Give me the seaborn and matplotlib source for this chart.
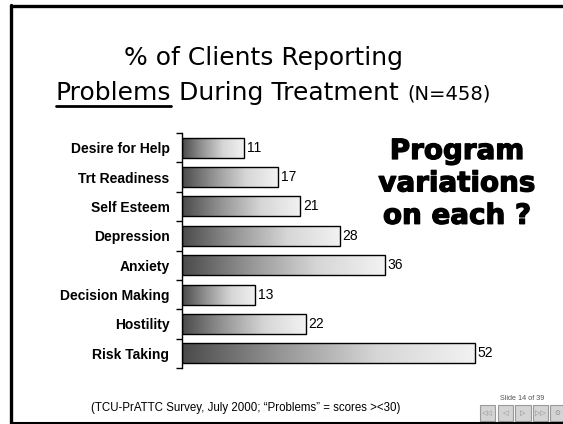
import numpy as np
import matplotlib
matplotlib.use("Agg")
import matplotlib.pyplot as plt
import seaborn as sns
import pandas as pd
from matplotlib.colors import LinearSegmentedColormap
from matplotlib.patches import Rectangle
from matplotlib.lines import Line2D
import matplotlib.patheffects as pe

# data
kategoriler = ["Desire for Help", "Trt Readiness", "Self Esteem", "Depression",
               "Anxiety", "Decision Making", "Hostility", "Risk Taking"]
yuzdeler = [11, 17, 21, 28, 36, 13, 22, 52]

veri = pd.DataFrame({"kategori": kategoriler, "yuzde": yuzdeler})

sns.set_style("white")
plt.rcParams["font.family"] = ["Liberation Sans", "DejaVu Sans"]
plt.rcParams["text.color"] = "black"
plt.rcParams["ytick.color"] = "black"
plt.rcParams["axes.edgecolor"] = "black"

W, H = 563, 424
fig = plt.figure(figsize=(W / 100, H / 100), dpi=100)

def fx(px):
    return px / W

def fy(py):
    return 1 - py / H

# slide frame
fig.add_artist(Line2D([fx(11), fx(11)], [fy(423), fy(5)], color="black", lw=2.4))
fig.add_artist(Line2D([fx(11), 1.0], [fy(5.5), fy(5.5)], color="black", lw=2.4))
fig.add_artist(Line2D([fx(11), 1.0], [fy(423), fy(423)], color="black", lw=1.5))

ax = fig.add_axes([fx(182), fy(368), fx(520 - 182), (368 - 133) / H])

sns.barplot(data=veri, x="yuzde", y="kategori", orient="h", ax=ax,
            color="white", width=0.68, edgecolor="black", linewidth=1.0)

# gradient fill inside each bar
gri = LinearSegmentedColormap.from_list("gri", ["#4a4a4a", "#959595", "#d6d6d6", "#f2f2f2"])
grad = np.linspace(0, 1, 256).reshape(1, -1)
for bar in ax.patches:
    x0, y0 = bar.get_x(), bar.get_y()
    w, h = bar.get_width(), bar.get_height()
    im = ax.imshow(grad, cmap=gri, aspect="auto", extent=[x0, x0 + w, y0 + h, y0],
                   zorder=bar.get_zorder() - 0.1, interpolation="bilinear")
    im.set_clip_path(bar)
    bar.set_facecolor("none")

ax.bar_label(ax.containers[0], padding=2, fontsize=10, color="black",
             family=["Liberation Sans Narrow", "Liberation Sans"])

ax.set_xlim(0, 60)
ax.set_ylim(len(kategoriler) - 0.5, -0.5)
ax.set_xlabel("")
ax.set_ylabel("")
ax.set_xticks([])
for s in ["top", "right", "bottom"]:
    ax.spines[s].set_visible(False)
ax.spines["left"].set_linewidth(1.0)

ax.set_yticks(np.arange(-0.5, len(kategoriler), 1.0))
ax.set_yticklabels([])
ax.set_yticks(np.arange(len(kategoriler)), minor=True)
ax.set_yticklabels(kategoriler, minor=True, fontsize=10, fontweight="bold", color="black")
ax.tick_params(axis="y", which="major", length=4, width=1.0, direction="out", left=True)
ax.tick_params(axis="y", which="minor", length=0, pad=9)

# title
fig.text(fx(264), fy(58), "% of Clients Reporting", ha="center", va="center",
         fontsize=18, family="DejaVu Sans", color="black")
t1 = fig.text(fx(38), fy(100), "Problems", ha="left", va="baseline",
              fontsize=18, family="DejaVu Sans", color="black")
t2 = fig.text(0, 0, " During Treatment ", ha="left", va="baseline",
              fontsize=18, family="DejaVu Sans", color="black")
t3 = fig.text(0, 0, "(N=458)", ha="left", va="baseline",
              fontsize=14, family="DejaVu Sans", color="black")
fig.canvas.draw()
r = fig.canvas.get_renderer()
b1 = t1.get_window_extent(r)
t2.set_position((b1.x1 / W, fy(100)))
b2 = t2.get_window_extent(r)
t3.set_position((b2.x1 / W, fy(100)))
b3 = t3.get_window_extent(r)
kay = (273 - (b3.x1 + b1.x0) / 2) / W
for t in (t1, t2, t3):
    x, y = t.get_position()
    t.set_position((x + kay, y))
fig.add_artist(Line2D([b1.x0 / W + kay, b1.x1 / W + kay], [fy(105.5), fy(105.5)],
                      color="black", lw=2.0))

# side remark
fig.text(fx(457), fy(137), "Program\nvariations\non each ?", ha="center", va="top",
         fontsize=20, fontweight="bold", family="DejaVu Sans", linespacing=1.2,
         color="black",
         path_effects=[pe.Stroke(linewidth=0.9, foreground="black"), pe.Normal()])

# footnote
fig.text(fx(246), fy(408), "(TCU-PrATTC Survey, July 2000; \u201cProblems\u201d = scores ><30)",
         ha="center", va="center", fontsize=8.3, color="black")

# slide navigation
fig.text(fx(500), fy(398), "Slide 14 of 39", ha="left", va="center", fontsize=5.2, color="#555555")
isaret = ["\u25c1\u25c1", "\u25c1", "\u25b7", "\u25b7\u25b7", "\u2299"]
for i, s in enumerate(isaret):
    x0 = 480 + i * 17.5
    fig.add_artist(Rectangle((fx(x0), fy(421)), fx(15.5), 16 / H, facecolor="#d4d4d4",
                             edgecolor="#9a9a9a", lw=0.8))
    fig.text(fx(x0 + 7.75), fy(413), s, ha="center", va="center", fontsize=5,
             color="#888888", family="DejaVu Sans")

plt.savefig("out.png", dpi=100)
